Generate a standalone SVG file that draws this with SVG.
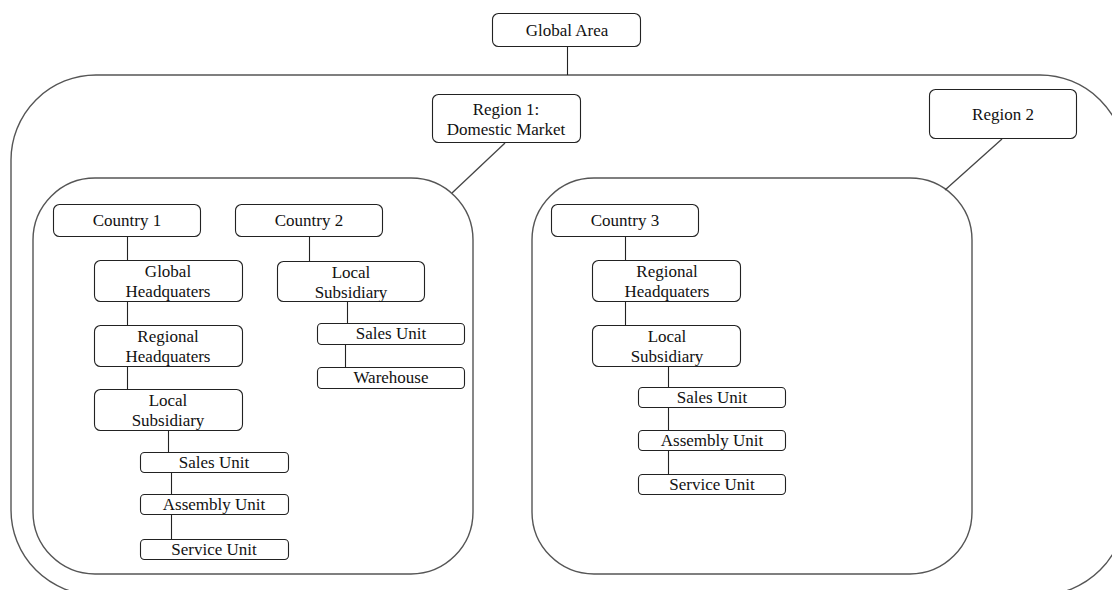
<svg xmlns="http://www.w3.org/2000/svg" width="1112" height="590" viewBox="0 0 1112 590">
  <style>
    .area { fill: none; stroke: #555; stroke-width: 1.4; }
    .node rect { fill: #fff; stroke: #222; stroke-width: 1.1; }
    .node text { font-family: "Liberation Serif", "Times New Roman", serif; font-size: 17px; fill: #111; text-anchor: middle; }
    .links line { stroke: #222; stroke-width: 1.1; }
    .links line.diag { stroke: #444; stroke-width: 1.3; }
  </style>

  <rect width="1112" height="590" fill="#fff"/>

  <!-- containers -->
  <g id="global-area-frame">
    <rect class="area" x="11" y="75" width="1114" height="520" rx="85" ry="85"/>
  </g>
  <g id="region1-frame">
    <rect class="area" x="33" y="178" width="440" height="396" rx="62" ry="62"/>
  </g>
  <g id="region2-frame">
    <rect class="area" x="532" y="178" width="440" height="396" rx="62" ry="62"/>
  </g>

  <!-- connectors -->
  <g id="connectors" class="links">
    <line x1="567.5" y1="47" x2="567.5" y2="75"/>
    <line class="diag" x1="505" y1="143" x2="452" y2="193"/>
    <line class="diag" x1="1002" y1="139" x2="945" y2="190"/>

    <!-- Country 1 chain -->
    <line x1="127.5" y1="237" x2="127.5" y2="261"/>
    <line x1="127.5" y1="302" x2="127.5" y2="325"/>
    <line x1="127.5" y1="366" x2="127.5" y2="389"/>
    <line x1="168.5" y1="431" x2="168.5" y2="452"/>
    <line x1="171.5" y1="473" x2="171.5" y2="494"/>
    <line x1="171.5" y1="515" x2="171.5" y2="539"/>

    <!-- Country 2 chain -->
    <line x1="309.5" y1="237" x2="309.5" y2="261"/>
    <line x1="347.5" y1="301" x2="347.5" y2="323"/>
    <line x1="345.5" y1="345" x2="345.5" y2="368"/>

    <!-- Country 3 chain -->
    <line x1="625.5" y1="237" x2="625.5" y2="261"/>
    <line x1="625.5" y1="302" x2="625.5" y2="325"/>
    <line x1="668.5" y1="366" x2="668.5" y2="387"/>
    <line x1="668.5" y1="408" x2="668.5" y2="430"/>
    <line x1="668.5" y1="451" x2="668.5" y2="474"/>
  </g>

  <!-- top level -->
  <g id="global-area" class="node">
    <rect x="492.5" y="13.5" width="148" height="33" rx="6"/>
    <text x="567" y="36">Global Area</text>
  </g>
  <g id="region-1" class="node">
    <rect x="432.5" y="94.5" width="148" height="48" rx="6"/>
    <text x="506" y="115">Region 1:</text>
    <text x="506" y="135">Domestic Market</text>
  </g>
  <g id="region-2" class="node">
    <rect x="929.5" y="89.5" width="147" height="49" rx="6"/>
    <text x="1003" y="120">Region 2</text>
  </g>

  <!-- Country 1 -->
  <g id="country-1" class="node">
    <rect x="53.5" y="204.5" width="147" height="32" rx="6"/>
    <text x="127" y="226">Country 1</text>
  </g>
  <g id="c1-global-hq" class="node">
    <rect x="94.5" y="260.5" width="148" height="41" rx="6"/>
    <text x="168" y="277">Global</text>
    <text x="168" y="297">Headquaters</text>
  </g>
  <g id="c1-regional-hq" class="node">
    <rect x="94.5" y="325.5" width="148" height="41" rx="6"/>
    <text x="168" y="342">Regional</text>
    <text x="168" y="362">Headquaters</text>
  </g>
  <g id="c1-local-subsidiary" class="node">
    <rect x="94.5" y="389.5" width="148" height="41" rx="6"/>
    <text x="168" y="406">Local</text>
    <text x="168" y="426">Subsidiary</text>
  </g>
  <g id="c1-sales-unit" class="node">
    <rect x="140.5" y="452.5" width="148" height="20" rx="4"/>
    <text x="214" y="468">Sales Unit</text>
  </g>
  <g id="c1-assembly-unit" class="node">
    <rect x="140.5" y="494.5" width="148" height="20" rx="4"/>
    <text x="214" y="510">Assembly Unit</text>
  </g>
  <g id="c1-service-unit" class="node">
    <rect x="140.5" y="539.5" width="148" height="20" rx="4"/>
    <text x="214" y="555">Service Unit</text>
  </g>

  <!-- Country 2 -->
  <g id="country-2" class="node">
    <rect x="235.5" y="204.5" width="147" height="32" rx="6"/>
    <text x="309" y="226">Country 2</text>
  </g>
  <g id="c2-local-subsidiary" class="node">
    <rect x="277.5" y="261.5" width="147" height="40" rx="6"/>
    <text x="351" y="278">Local</text>
    <text x="351" y="298">Subsidiary</text>
  </g>
  <g id="c2-sales-unit" class="node">
    <rect x="317.5" y="323.5" width="147" height="21" rx="4"/>
    <text x="391" y="339">Sales Unit</text>
  </g>
  <g id="c2-warehouse" class="node">
    <rect x="317.5" y="367.5" width="147" height="21" rx="4"/>
    <text x="391" y="383">Warehouse</text>
  </g>

  <!-- Country 3 -->
  <g id="country-3" class="node">
    <rect x="551.5" y="204.5" width="147" height="32" rx="6"/>
    <text x="625" y="226">Country 3</text>
  </g>
  <g id="c3-regional-hq" class="node">
    <rect x="592.5" y="260.5" width="148" height="41" rx="6"/>
    <text x="667" y="277">Regional</text>
    <text x="667" y="297">Headquaters</text>
  </g>
  <g id="c3-local-subsidiary" class="node">
    <rect x="592.5" y="325.5" width="148" height="41" rx="6"/>
    <text x="667" y="342">Local</text>
    <text x="667" y="362">Subsidiary</text>
  </g>
  <g id="c3-sales-unit" class="node">
    <rect x="638.5" y="387.5" width="147" height="20" rx="4"/>
    <text x="712" y="403">Sales Unit</text>
  </g>
  <g id="c3-assembly-unit" class="node">
    <rect x="638.5" y="430.5" width="147" height="20" rx="4"/>
    <text x="712" y="446">Assembly Unit</text>
  </g>
  <g id="c3-service-unit" class="node">
    <rect x="638.5" y="474.5" width="147" height="20" rx="4"/>
    <text x="712" y="490">Service Unit</text>
  </g>
</svg>
